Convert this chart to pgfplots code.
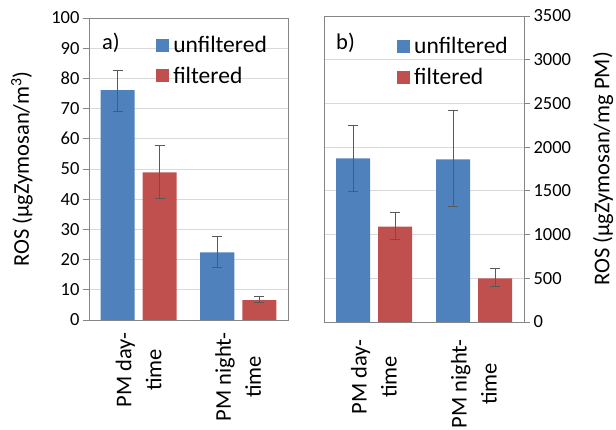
\documentclass[border=0pt]{standalone}
\usepackage{fontspec}
\setmainfont{Carlito}
\usepackage{pgfplots}
\pgfplotsset{compat=1.18}
\definecolor{cblue}{HTML}{4F81BD}
\definecolor{cred}{HTML}{C0504D}
\definecolor{axgray}{HTML}{868686}
\definecolor{grd}{HTML}{D9D9D9}
\definecolor{errc}{HTML}{595959}
\newcommand\tck{\fontsize{18.5}{22}\selectfont}
\newcommand\lbl{\fontsize{22.5}{30}\selectfont}
\newcommand\lgd{\fontsize{23.5}{27}\selectfont}
\pgfplotsset{
  panel/.style={
    scale only axis,
    ybar=8pt, bar width=34pt,
    xmin=-0.5, xmax=1.5,
    xtick={0,1},
    xticklabels={{PM day-\\time},{PM night-\\time}},
    major x tick style={draw=none},
    xticklabel style={rotate=90, anchor=east, align=center, font=\lbl},
    ymin=0,
    ymajorgrids, grid style={grd, line width=0.8pt},
    axis line style={axgray, line width=0.9pt},
    tick align=outside, major tick length=6pt,
    ytick style={axgray, line width=0.9pt},
    yticklabel style={font=\tck},
    /pgf/number format/assume math mode=true,
    /pgf/number format/1000 sep={},
    scaled y ticks=false,
    label style={font=\lbl},
    legend style={draw=none, fill=none, font=\lgd, inner sep=0pt,
      row sep=9pt, column sep=2pt, cells={anchor=west}},
    legend cell align=left,
  },
  ubar/.style={fill=cblue, draw=none,
    legend image code/.code={\fill[cblue] (0pt,-6.5pt) rectangle (13pt,6.5pt);},
    error bars/.cd, y dir=both, y explicit,
    error bar style={draw=errc, line width=0.8pt},
    error mark options={rotate=90, draw=errc, mark size=5pt, line width=0.8pt}},
  fbar/.style={fill=cred, draw=none,
    legend image code/.code={\fill[cred] (0pt,-6.5pt) rectangle (13pt,6.5pt);},
    error bars/.cd, y dir=both, y explicit,
    error bar style={draw=errc, line width=0.8pt},
    error mark options={rotate=90, draw=errc, mark size=5pt, line width=0.8pt}},
}
\begin{document}
\begin{tikzpicture}
\path[use as bounding box] (0,0) rectangle (616pt,430pt);
\begin{axis}[panel,
  at={(89pt,110pt)}, anchor=south west,
  width=199pt, height=302pt,
  ymax=100, ytick={0,10,...,100},
  ytick pos=left,
  xticklabel style={xshift=-3pt},
  ylabel={ROS (µgZymosan/m\textsuperscript{3})},
  ylabel style={at={(axis description cs:-0.337,0.5)}, anchor=center},
  legend style={at={(axis description cs:0.337,0.947)}, anchor=north west},
]
\addplot[ubar] coordinates {(0,76.1) += (0,6.5) -= (0,7.0) (1,22.4) += (0,5.3) -= (0,5.1)};
\addplot[fbar] coordinates {(0,48.9) += (0,9.0) -= (0,8.7) (1,6.6) += (0,1.3) -= (0,0.7)};
\legend{unfiltered, filtered}
\node[font=\lbl, anchor=west, inner sep=0pt] at (axis description cs:0.065,0.917) {a)};
\end{axis}
\begin{axis}[panel,
  at={(324pt,108pt)}, anchor=south west,
  width=200pt, height=306pt,
  ymax=3500, ytick={0,500,...,3500},
  ytick pos=right, yticklabel pos=right,
  xticklabel style={xshift=-8pt},
  ylabel={ROS (µgZymosan/mg PM)},
  ylabel style={at={(axis description cs:1.395,0.5)}, anchor=center, rotate=0},
  legend style={at={(axis description cs:0.365,0.937)}, anchor=north west},
]
\addplot[ubar] coordinates {(0,1872) += (0,381) -= (0,382) (1,1861) += (0,560) -= (0,542)};
\addplot[fbar] coordinates {(0,1090) += (0,168) -= (0,141) (1,500) += (0,118) -= (0,88)};
\legend{unfiltered, filtered}
\node[font=\lbl, anchor=west, inner sep=0pt] at (axis description cs:0.06,0.912) {b)};
\end{axis}
\end{tikzpicture}
\end{document}
